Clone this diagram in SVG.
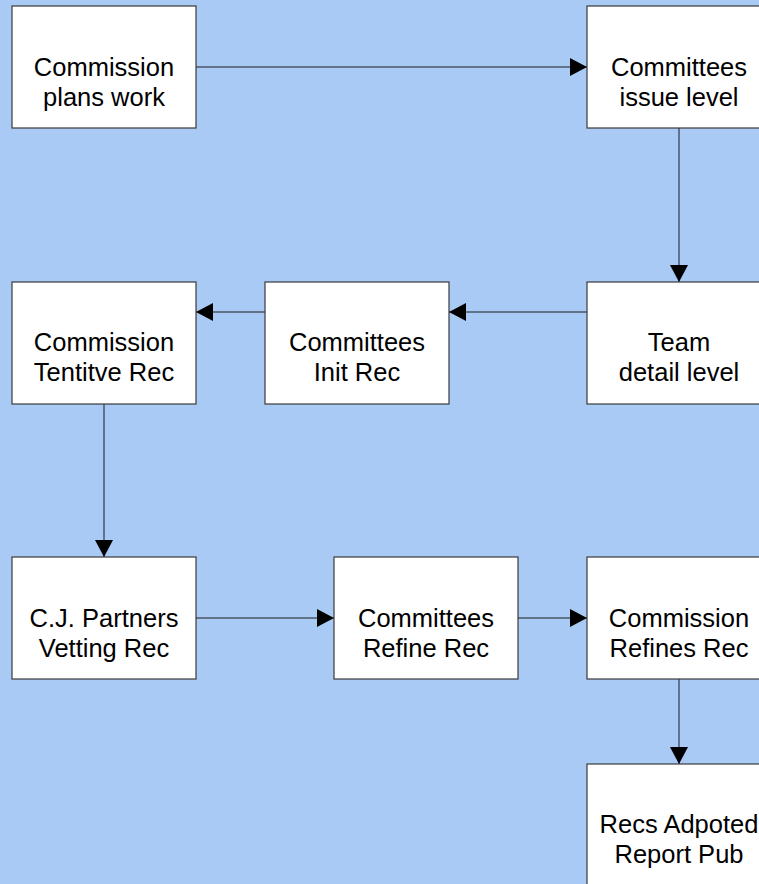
<svg xmlns="http://www.w3.org/2000/svg" width="759" height="884" viewBox="0 0 759 884">
<defs>
<style>
.box{fill:#ffffff;stroke:#3a3a3a;stroke-width:1.2}
.lbl{font-family:"Liberation Sans",Arial,sans-serif;font-size:25.5px;fill:#000;text-anchor:middle}
.edge{stroke:#1a1a1a;stroke-width:1;fill:none;marker-end:url(#ah)}
</style>
<marker id="ah" markerUnits="userSpaceOnUse" markerWidth="18" markerHeight="18" refX="17" refY="9" orient="auto">
<path d="M0,0 L17,9 L0,18 Z" fill="#000"/>
</marker>
</defs>
<rect width="759" height="884" fill="#AACAF6"/>
<g id="connectors">
<line class="edge" x1="196" y1="67" x2="587" y2="67"/>
<line class="edge" x1="679" y1="128" x2="679" y2="282"/>
<line class="edge" x1="587" y1="312" x2="449" y2="312"/>
<line class="edge" x1="265" y1="312" x2="196" y2="312"/>
<line class="edge" x1="104" y1="404" x2="104" y2="557"/>
<line class="edge" x1="196" y1="618" x2="334" y2="618"/>
<line class="edge" x1="518" y1="618" x2="587" y2="618"/>
<line class="edge" x1="679" y1="679" x2="679" y2="764"/>
</g>
<g id="n1"><rect class="box" x="12" y="6" width="184" height="122"/><text class="lbl" x="104" y="76">Commission</text><text class="lbl" x="104" y="106">plans work</text></g>
<g id="n2"><rect class="box" x="587" y="6" width="184" height="122"/><text class="lbl" x="679" y="76">Committees</text><text class="lbl" x="679" y="106">issue level</text></g>
<g id="n3"><rect class="box" x="587" y="282" width="184" height="122"/><text class="lbl" x="679" y="351">Team</text><text class="lbl" x="679" y="381">detail level</text></g>
<g id="n4"><rect class="box" x="265" y="282" width="184" height="122"/><text class="lbl" x="357" y="351">Committees</text><text class="lbl" x="357" y="381">Init Rec</text></g>
<g id="n5"><rect class="box" x="12" y="282" width="184" height="122"/><text class="lbl" x="104" y="351">Commission</text><text class="lbl" x="104" y="381">Tentitve Rec</text></g>
<g id="n6"><rect class="box" x="12" y="557" width="184" height="122"/><text class="lbl" x="104" y="627">C.J. Partners</text><text class="lbl" x="104" y="657">Vetting Rec</text></g>
<g id="n7"><rect class="box" x="334" y="557" width="184" height="122"/><text class="lbl" x="426" y="627">Committees</text><text class="lbl" x="426" y="657">Refine Rec</text></g>
<g id="n8"><rect class="box" x="587" y="557" width="184" height="122"/><text class="lbl" x="679" y="627">Commission</text><text class="lbl" x="679" y="657">Refines Rec</text></g>
<g id="n9"><rect class="box" x="587" y="764" width="184" height="122"/><text class="lbl" x="679" y="833">Recs Adpoted</text><text class="lbl" x="679" y="863">Report Pub</text></g>
</svg>
